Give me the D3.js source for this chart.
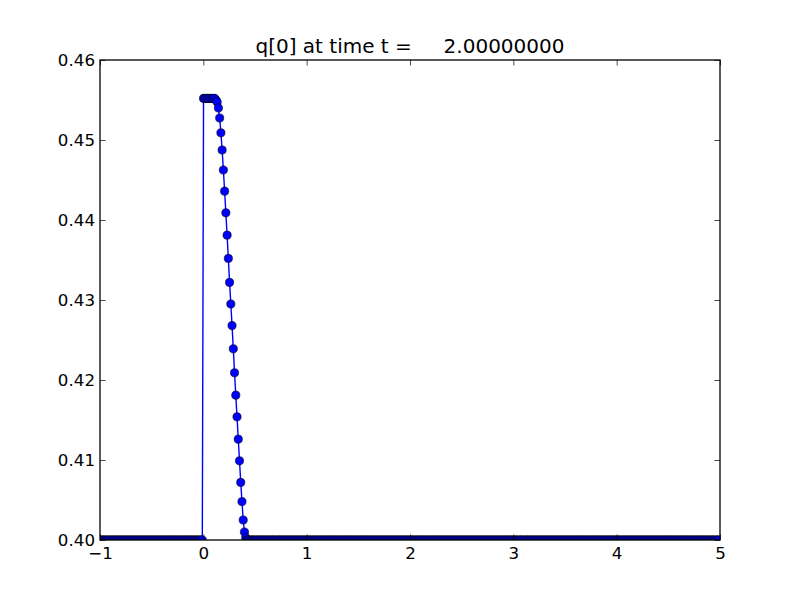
<!DOCTYPE html>
<html>
<head>
<meta charset="utf-8">
<script src="https://cdn.jsdelivr.net/npm/d3@7"></script>
<style>
  body { margin: 0; background: #fff; }
  svg { display: block; }
  text { font-family: "DejaVu Sans", sans-serif; }
</style>
</head>
<body>
<div id="chart"></div>
<script>
// grid: 500 cells on [-1, 5]
var xLower = -1, xUpper = 5, numCells = 500;
var qBase = 0.4;
// pulse values starting at cell 83 (x = 0.006)
var pulseStart = 83;
var qPulse = [0.4552, 0.4552, 0.4552, 0.4552, 0.4552, 0.4552, 0.4552, 0.4552, 0.4552, 0.4552,
  0.4550, 0.45475, 0.4540, 0.45275, 0.4509, 0.44875, 0.44625, 0.4436, 0.4409, 0.4381,
  0.4352, 0.4322, 0.4295, 0.4268, 0.4239, 0.4209, 0.4181, 0.4154, 0.4126, 0.4099,
  0.4072, 0.4048, 0.4025, 0.4010, 0.4003];
var xTicks = [-1, 0, 1, 2, 3, 4, 5];
var yTicks = [0.40, 0.41, 0.42, 0.43, 0.44, 0.45, 0.46];
var titleText = "q[0] at time t =     2.00000000";

var dx = (xUpper - xLower) / numCells;
var data = d3.range(numCells).map(function(i) {
  var j = i - pulseStart;
  var q = (j >= 0 && j < qPulse.length) ? qPulse[j] : qBase;
  return { x: xLower + dx * (i + 0.5), q: q };
});

var width = 800, height = 600;
var axL = 100, axR = 720, axT = 60, axB = 540;

var svg = d3.select("#chart").append("svg")
  .attr("width", width)
  .attr("height", height);

var x = d3.scaleLinear().domain([xLower, xUpper]).range([axL, axR]);
var y = d3.scaleLinear().domain([0.40, 0.46]).range([axB, axT]);

svg.append("clipPath").attr("id", "clip")
  .append("rect")
  .attr("x", axL).attr("y", axT)
  .attr("width", axR - axL).attr("height", axB - axT);

var plot = svg.append("g").attr("clip-path", "url(#clip)");

var line = d3.line().x(d => x(d.x)).y(d => y(d.q));

plot.append("path")
  .datum(data)
  .attr("d", line)
  .attr("fill", "none")
  .attr("stroke", "#0000ff")
  .attr("stroke-width", 1.4);

plot.selectAll(".pt")
  .data(data)
  .enter()
  .append("circle")
  .attr("class", "pt")
  .attr("cx", d => x(d.x))
  .attr("cy", d => y(d.q))
  .attr("r", 4.1)
  .attr("fill", "#0000ff")
  .attr("stroke", "#000")
  .attr("stroke-width", 0.6);

// axes, matplotlib classic: ticks inside on all sides
var tickLen = 5.6;
var axBottom = svg.append("g").attr("transform", "translate(0," + axB + ")")
  .call(d3.axisBottom(x).tickValues(xTicks).tickSizeInner(-tickLen).tickSizeOuter(0).tickPadding(7)
    .tickFormat(d => d < 0 ? "\u2212" + Math.abs(d) : d));
var axTop = svg.append("g").attr("transform", "translate(0," + axT + ")")
  .call(d3.axisTop(x).tickValues(xTicks).tickSizeInner(-tickLen).tickSizeOuter(0).tickFormat(""));
var axLeft = svg.append("g").attr("transform", "translate(" + axL + ",0)")
  .call(d3.axisLeft(y).tickValues(yTicks).tickSizeInner(-tickLen).tickSizeOuter(0).tickPadding(5)
    .tickFormat(d3.format(".2f")));
var axRight = svg.append("g").attr("transform", "translate(" + axR + ",0)")
  .call(d3.axisRight(y).tickValues(yTicks).tickSizeInner(-tickLen).tickSizeOuter(0).tickFormat(""));

[axBottom, axTop, axLeft, axRight].forEach(function(g) {
  g.select(".domain").remove();
  g.selectAll(".tick line").attr("stroke", "#000").attr("stroke-width", 0.7);
  g.selectAll(".tick text")
    .attr("font-family", "'DejaVu Sans', sans-serif")
    .attr("font-size", "16.7px")
    .attr("fill", "#000");
});

svg.append("rect")
  .attr("x", axL).attr("y", axT)
  .attr("width", axR - axL).attr("height", axB - axT)
  .attr("fill", "none")
  .attr("stroke", "#000")
  .attr("stroke-width", 1.3);

svg.append("text")
  .attr("x", (axL + axR) / 2)
  .attr("y", axT - 7)
  .attr("text-anchor", "middle")
  .attr("font-size", "20px")
  .style("white-space", "pre")
  .attr("fill", "#000")
  .text(titleText);
</script>
</body>
</html>
